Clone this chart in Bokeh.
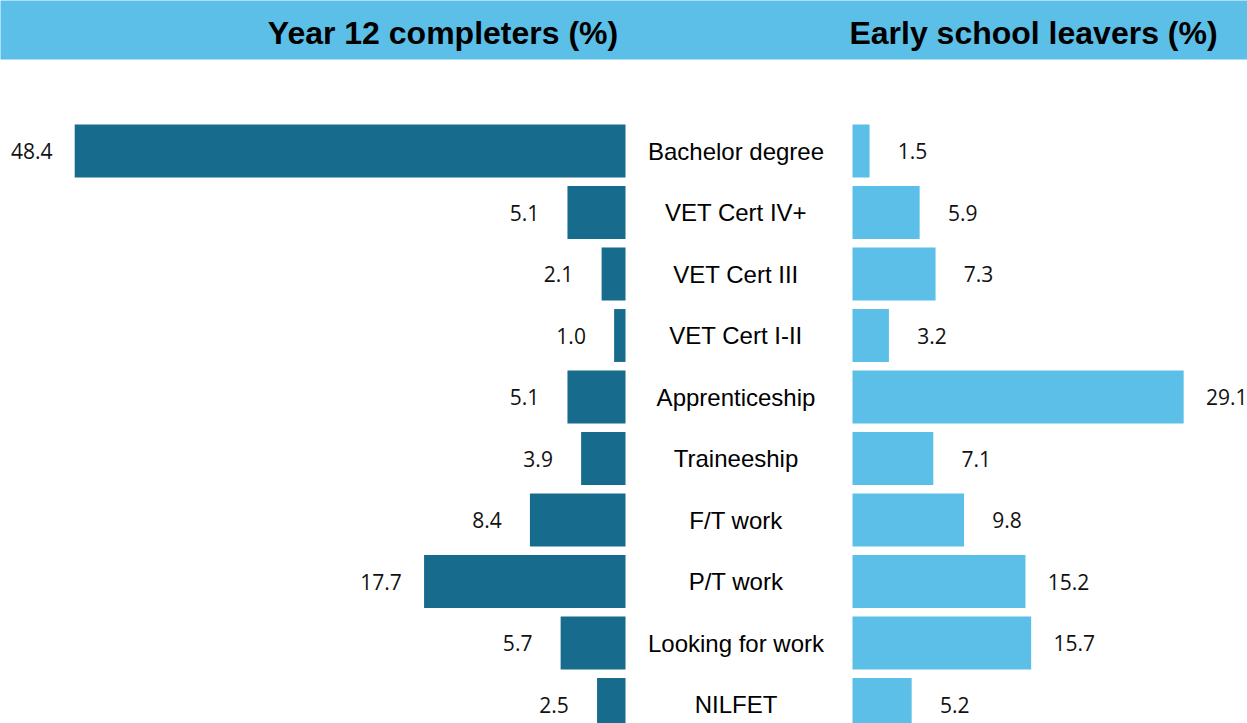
from bokeh.plotting import figure
from bokeh.models import ColumnDataSource, Range1d
from bokeh.core.properties import value
from bokeh.embed import file_html
from bokeh.resources import INLINE

# ---------------- data ----------------
categories = ["Bachelor degree", "VET Cert IV+", "VET Cert III", "VET Cert I-II",
              "Apprenticeship", "Traineeship", "F/T work", "P/T work",
              "Looking for work", "NILFET"]
year12_completers = [48.4, 5.1, 2.1, 1.0, 5.1, 3.9, 8.4, 17.7, 5.7, 2.5]
early_school_leavers = [1.5, 5.9, 7.3, 3.2, 29.1, 7.1, 9.8, 15.2, 15.7, 5.2]
titles = ["Year 12 completers (%)", "Early school leavers (%)"]

# ---------------- layout constants ----------------
W, H = 1247, 723
SCALE = 11.38            # px per percentage point
ZERO_LEFT_PX = 625       # px position of the left panel's zero line
GAP = 227 / SCALE        # gap between panels, in data units
ROW_PX = 61.5            # px between rows
FIRST_ROW_PX = 150.5     # px of first row centre

X0 = -ZERO_LEFT_PX / SCALE
X1 = X0 + W / SCALE
Y_TOP = -FIRST_ROW_PX / ROW_PX
Y_BOT = Y_TOP + H / ROW_PX


def px_x(px):
    return X0 + px / SCALE


def px_y(py):
    return Y_TOP + py / ROW_PX


DARK = "#176B8D"
LIGHT = "#5BBFE7"

pos = list(range(len(categories)))
src = ColumnDataSource(dict(
    pos=pos,
    cat=categories,
    neg=[-v for v in year12_completers],
    rend=[GAP + v for v in early_school_leavers],
    y12lab=["%.1f" % v for v in year12_completers],
    esllab=["%.1f" % v for v in early_school_leavers],
))

p = figure(width=W, height=H, output_backend="svg", toolbar_location=None,
           x_range=Range1d(X0, X1), y_range=Range1d(Y_BOT, Y_TOP),
           x_axis_location=None, y_axis_location=None, min_border=0,
           outline_line_color=None, background_fill_color="white",
           border_fill_color="white")
p.grid.visible = False

# header band
p.quad(left=X0 - 1, right=X1 + 1, top=px_y(-10), bottom=px_y(59),
       fill_color=LIGHT, line_color=None)
p.text(x=[px_x(442.5), px_x(1033)], y=[px_y(32), px_y(32)], text=titles,
       text_align="center", text_baseline="middle",
       text_font=value("Liberation Sans"), text_font_style="bold",
       text_font_size="32px", text_color="#000000")

# bars
p.hbar(y="pos", left="neg", right=0, height=0.86, source=src,
       fill_color=DARK, line_color=None)
p.hbar(y="pos", left=GAP, right="rend", height=0.86, source=src,
       fill_color=LIGHT, line_color=None)

# value labels
p.text(x="neg", y="pos", text="y12lab", source=src, x_offset=-43,
       text_align="center", text_baseline="middle",
       text_font=value("Open Sans"), text_font_size="21px", text_color="#111111")
p.text(x="rend", y="pos", text="esllab", source=src, x_offset=43,
       text_align="center", text_baseline="middle",
       text_font=value("Open Sans"), text_font_size="21px", text_color="#111111")

# category labels
p.text(x=GAP / 2, y="pos", text="cat", source=src, x_offset=-3,
       text_align="center", text_baseline="middle",
       text_font=value("Liberation Sans"), text_font_size="24px", text_color="#000000")

open("out.html", "w").write(file_html(p, INLINE))
